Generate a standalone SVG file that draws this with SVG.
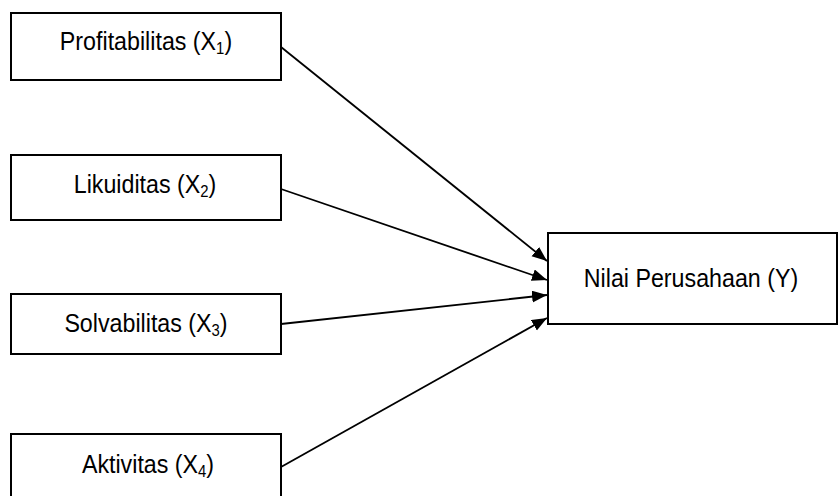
<svg xmlns="http://www.w3.org/2000/svg" width="838" height="496" viewBox="0 0 838 496">
<style>
.box{fill:#fff;stroke:#000;stroke-width:2}
.lbl{font-family:"Liberation Sans",Arial,sans-serif;font-size:25px;fill:#000;text-anchor:middle}
.sub{font-size:16px}
.edge{stroke:#000;stroke-width:1.8;fill:none;marker-end:url(#ah)}
</style>
<defs>
<marker id="ah" markerUnits="userSpaceOnUse" markerWidth="16" markerHeight="14" refX="15" refY="6" orient="auto">
<path d="M0,0 L15,6 L0,12 z" fill="#000"/>
</marker>
</defs>
<rect width="838" height="496" fill="#fff"/>
<g id="connectors">
<line class="edge" x1="281" y1="47" x2="547" y2="261"/>
<line class="edge" x1="281" y1="189" x2="547" y2="280"/>
<line class="edge" x1="281" y1="324" x2="547" y2="295"/>
<line class="edge" x1="281" y1="467" x2="547" y2="318"/>
</g>
<g id="x1">
<rect class="box" x="11" y="13" width="270" height="67"/>
<text class="lbl" transform="translate(146,50) scale(0.93,1)">Profitabilitas (X<tspan class="sub" dy="4">1</tspan><tspan dy="-4">)</tspan></text>
</g>
<g id="x2">
<rect class="box" x="11" y="155" width="270" height="65"/>
<text class="lbl" transform="translate(145,193) scale(0.93,1)">Likuiditas (X<tspan class="sub" dy="4">2</tspan><tspan dy="-4">)</tspan></text>
</g>
<g id="x3">
<rect class="box" x="11" y="294" width="270" height="60"/>
<text class="lbl" transform="translate(146,332) scale(0.93,1)">Solvabilitas (X<tspan class="sub" dy="4">3</tspan><tspan dy="-4">)</tspan></text>
</g>
<g id="x4">
<rect class="box" x="11" y="434" width="270" height="80"/>
<text class="lbl" transform="translate(148,473) scale(0.93,1)">Aktivitas (X<tspan class="sub" dy="4">4</tspan><tspan dy="-4">)</tspan></text>
</g>
<g id="y">
<rect class="box" x="548" y="233" width="289" height="91"/>
<text class="lbl" transform="translate(691,287) scale(0.93,1)">Nilai Perusahaan (Y)</text>
</g>
</svg>
